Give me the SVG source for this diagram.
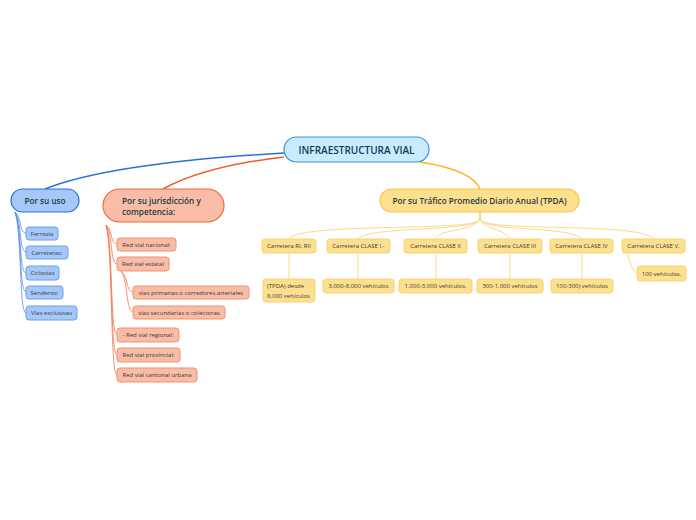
<svg xmlns="http://www.w3.org/2000/svg" width="696" height="520" viewBox="0 0 696 520">
<style>
text{font-family:"Open Sans","Noto Sans","Liberation Sans",sans-serif}
.main{font-size:8.2px;font-weight:600;fill:#1d3b3b}
.root{font-size:10px;font-weight:600;fill:#123a5c}
.sm{font-size:6px;fill:#3a3a3a}
.bl{fill:#a6c8f8;stroke:#2a6fdc;stroke-width:1.2}
.blc{fill:#a6c8f8;stroke:#6b9ef0;stroke-width:1}
.or{fill:#f8bca7;stroke:#ef6a3e;stroke-width:1.2}
.orc{fill:#f8bca7;stroke:#f4916e;stroke-width:1}
.ye{fill:#fde08f;stroke:#f7c23f;stroke-width:1.2}
.yec{fill:#fde08f;stroke:#fbd26c;stroke-width:1}
.c{fill:none}
</style>
<rect width="696" height="520" fill="#ffffff"/>
<g id="connectors">
<path class="c" d="M45,189 Q110,163 284,153" stroke="#2a6fdc" stroke-width="1.5"/>
<path class="c" d="M163,189 Q205,166 284,157" stroke="#ef5a2a" stroke-width="1.5"/>
<path class="c" d="M420,162 Q472,170 480,189" stroke="#f7b923" stroke-width="1.5"/>
<g stroke="#5b8fe8" stroke-width="0.8">
<path class="c" d="M15,212 C22,218 19,233 26,233"/>
<path class="c" d="M15,212 C22,222 19,252 26,252"/>
<path class="c" d="M15,212 C22,226 19,273 26,273"/>
<path class="c" d="M15,212 C22,230 19,292 26,292"/>
<path class="c" d="M15,212 C22,234 19,313 26,313"/>
</g>
<g stroke="#f07a50" stroke-width="0.8">
<path class="c" d="M106,225 C113,230 110,244 117,244"/>
<path class="c" d="M106,225 C113,234 110,264 117,264"/>
<path class="c" d="M106,225 C113,240 110,335 117,335"/>
<path class="c" d="M106,225 C113,244 110,355 117,355"/>
<path class="c" d="M106,225 C113,248 110,375 117,375"/>
<path class="c" d="M121,271 C128,276 126,292 133,292"/>
<path class="c" d="M121,271 C128,280 126,312 133,312"/>
</g>
<path class="c" d="M480,212 L480,220" stroke="#f7b923" stroke-width="1.2"/>
<g stroke="#fcd98a" stroke-width="1">
<path class="c" d="M480,220 C470,232 300,222 289,239"/>
<path class="c" d="M480,220 C470,232 368,226 358,239"/>
<path class="c" d="M480,220 C470,232 442,228 435,239"/>
<path class="c" d="M480,220 C490,232 503,228 510,239"/>
<path class="c" d="M480,220 C490,232 572,226 582,239"/>
<path class="c" d="M480,220 C490,232 643,222 653,239"/>
<path class="c" d="M289,253 L289,279"/>
<path class="c" d="M358,253 L358,279"/>
<path class="c" d="M436,253 L436,279"/>
<path class="c" d="M510,253 L510,279"/>
<path class="c" d="M582,253 L582,279"/>
<path class="c" d="M627,253 C630,262 633,273 637,273"/>
</g>
</g>
<g id="root">
<rect x="284" y="137" width="145" height="25" rx="12.5" fill="#c9ecfc" stroke="#3b8fd8" stroke-width="1.2"/>
<text class="root" x="356.5" y="153.5" text-anchor="middle">INFRAESTRUCTURA VIAL</text>
</g>
<g id="uso">
<rect class="bl" x="11" y="189" width="68" height="23" rx="11.5"/>
<text class="main" x="45" y="203.5" text-anchor="middle">Por su uso</text>
</g>
<g id="ferrovia"><rect class="blc" x="26" y="227" width="32" height="13" rx="3"/><text class="sm" x="42" y="235.5" text-anchor="middle">Ferrovía</text></g>
<g id="carreteras"><rect class="blc" x="26" y="246" width="42" height="13" rx="3"/><text class="sm" x="47" y="254.5" text-anchor="middle">Carreteras:</text></g>
<g id="ciclovias"><rect class="blc" x="26" y="266" width="33" height="14" rx="3"/><text class="sm" x="42.5" y="275" text-anchor="middle">Ciclovías</text></g>
<g id="senderos"><rect class="blc" x="26" y="286" width="37" height="13" rx="3"/><text class="sm" x="44.5" y="294.5" text-anchor="middle">Senderos:</text></g>
<g id="exclusivas"><rect class="blc" x="26" y="306" width="51" height="14" rx="3"/><text class="sm" x="51.5" y="315" text-anchor="middle">Vías exclusivas</text></g>
<g id="jurisdiccion">
<rect class="or" x="103" y="189" width="121" height="33" rx="16.5"/>
<text class="main" x="122" y="203.5">Por su jurisdicción y</text>
<text class="main" x="122" y="215">competencia:</text>
</g>
<g id="nacional"><rect class="orc" x="117" y="238" width="59" height="13" rx="3"/><text class="sm" x="146.5" y="246.5" text-anchor="middle">Red vial nacional:</text></g>
<g id="estatal"><rect class="orc" x="117" y="257" width="52" height="14" rx="3"/><text class="sm" x="143" y="266" text-anchor="middle">Red vial estatal</text></g>
<g id="primarias"><rect class="orc" x="133" y="286" width="116" height="13" rx="3"/><text class="sm" x="191" y="294.5" text-anchor="middle">vías primarias o corredores arteriales</text></g>
<g id="secundarias"><rect class="orc" x="133" y="306" width="92" height="13" rx="3"/><text class="sm" x="179" y="314.5" text-anchor="middle">vías secundarias o colectoras</text></g>
<g id="regional"><rect class="orc" x="117" y="328" width="62" height="14" rx="3"/><text class="sm" x="148" y="337" text-anchor="middle">- Red vial regional:</text></g>
<g id="provincial"><rect class="orc" x="117" y="348" width="63" height="14" rx="3"/><text class="sm" x="148.5" y="357" text-anchor="middle">Red vial provincial:</text></g>
<g id="cantonal"><rect class="orc" x="117" y="368" width="80" height="14" rx="3"/><text class="sm" x="157" y="377" text-anchor="middle">Red vial cantonal urbana</text></g>
<g id="tpda">
<rect class="ye" x="380" y="189" width="199" height="23" rx="11.5"/>
<text class="main" x="479.5" y="203.5" text-anchor="middle">Por su Tráfico Promedio Diario Anual (TPDA)</text>
</g>
<g id="c-ri"><rect class="yec" x="262" y="239" width="54" height="14" rx="3"/><text class="sm" x="289" y="248" text-anchor="middle">Carretera RI, RII</text></g>
<g id="c-i"><rect class="yec" x="327" y="239" width="63" height="14" rx="3"/><text class="sm" x="358.5" y="248" text-anchor="middle">Carretera  CLASE I.-</text></g>
<g id="c-ii"><rect class="yec" x="404" y="239" width="63" height="14" rx="3"/><text class="sm" x="435.5" y="248" text-anchor="middle">Carretera CLASE II</text></g>
<g id="c-iii"><rect class="yec" x="478" y="239" width="64" height="14" rx="3"/><text class="sm" x="510" y="248" text-anchor="middle">Carretera CLASE III</text></g>
<g id="c-iv"><rect class="yec" x="550" y="239" width="63" height="14" rx="3"/><text class="sm" x="581.5" y="248" text-anchor="middle">Carretera CLASE IV</text></g>
<g id="c-v"><rect class="yec" x="622" y="239" width="63" height="14" rx="3"/><text class="sm" x="653.5" y="248" text-anchor="middle">Carretera CLASE V.</text></g>
<g id="v-ri"><rect class="yec" x="263" y="279" width="52" height="23" rx="3"/><text class="sm" x="267" y="288">(TPDA) desde</text><text class="sm" x="267" y="297.5">8.000 vehículos</text></g>
<g id="v-i"><rect class="yec" x="323" y="279" width="71" height="14" rx="3"/><text class="sm" x="358.5" y="288" text-anchor="middle">3.000-8.000 vehículos</text></g>
<g id="v-ii"><rect class="yec" x="399" y="279" width="73" height="14" rx="3"/><text class="sm" x="435.5" y="288" text-anchor="middle">1.000-3.000 vehículos.</text></g>
<g id="v-iii"><rect class="yec" x="477" y="279" width="66" height="14" rx="3"/><text class="sm" x="510" y="288" text-anchor="middle">300-1.000 vehículos</text></g>
<g id="v-iv"><rect class="yec" x="551" y="279" width="62" height="14" rx="3"/><text class="sm" x="582" y="288" text-anchor="middle">100-300) vehículos</text></g>
<g id="v-v"><rect class="yec" x="637" y="266" width="49" height="15" rx="3"/><text class="sm" x="661.5" y="275.5" text-anchor="middle">100 vehículos.</text></g>
</svg>
